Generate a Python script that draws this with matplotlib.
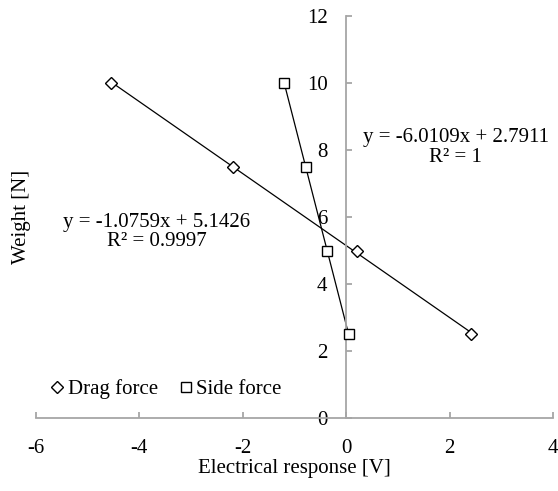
import numpy as np
import matplotlib
matplotlib.use("Agg")
import matplotlib.pyplot as plt
from matplotlib.lines import Line2D

# Data
weight = [10, 7.5, 5, 2.5]
drag_x = [-4.55, -2.18, 0.21, 2.41]
side_x = [-1.20, -0.785, -0.365, 0.045]
drag_eq = "y = -1.0759x + 5.1426\nR² = 0.9997"
side_eq = "y = -6.0109x + 2.7911\nR² = 1"
series_names = ["Drag force", "Side force"]
x_ticks = [-6, -4, -2, 0, 2, 4]
y_ticks = [0, 2, 4, 6, 8, 10, 12]

plt.rcParams['font.family'] = ['Liberation Serif', 'DejaVu Serif']
plt.rcParams['axes.unicode_minus'] = False
FS = 15
grey = '#A6A6A6'

fig = plt.figure(figsize=(5.58, 4.91), dpi=100)
ax = fig.add_axes([36/558, (491-418)/491, (553-36)/558, (418-16)/491])

for xs, mk, ms in [(drag_x, 'D', 6), (side_x, 's', 7.5)]:
    xs = np.array(xs)
    ys = np.array(weight)
    # trendline: y as linear function of x, drawn across the data range
    b = np.polyfit(xs, ys, 1)
    xl = np.array([xs.min(), xs.max()])
    ax.plot(xl, np.polyval(b, xl), color='black', lw=0.9, zorder=2)
    ax.plot(xs, ys, linestyle='none', marker=mk, markersize=ms,
            markerfacecolor='white', markeredgecolor='black',
            markeredgewidth=1.0, zorder=3)

ax.set_xlim(-6, 4)
ax.set_ylim(0, 12)
ax.set_xticks(x_ticks)
ax.set_yticks(y_ticks)
ax.spines['left'].set_position(('data', 0))
ax.spines['top'].set_visible(False)
ax.spines['right'].set_visible(False)
for s in ['left', 'bottom']:
    ax.spines[s].set_color(grey)
    ax.spines[s].set_linewidth(1.3)
ax.tick_params(axis='both', direction='in', color=grey, width=1.3,
               length=4, labelsize=FS, labelcolor='black')
ax.tick_params(axis='y', pad=13.5)
ax.tick_params(axis='x', pad=15)
ax.patch.set_alpha(0)

ax.text(-3.66, 5.55, drag_eq, ha='center', va='center', fontsize=FS,
        multialignment='center', linespacing=1.05)
ax.text(2.12, 8.07, side_eq, ha='center', va='center', fontsize=FS,
        multialignment='center', linespacing=1.05)

fig.text(22/558, 1 - 217/491, 'Weight [N]', rotation=90, ha='center',
         va='center', fontsize=FS)
fig.text(294/558, 1 - 468/491, 'Electrical response [V]', ha='center',
         va='center', fontsize=FS)

handles = [Line2D([], [], linestyle='none', marker='D', markersize=6,
                  markerfacecolor='white', markeredgecolor='black'),
           Line2D([], [], linestyle='none', marker='s', markersize=7.5,
                  markerfacecolor='white', markeredgecolor='black')]
fig.legend(handles, series_names, loc='center left',
           bbox_to_anchor=(50/558, 1 - 389/491), ncol=2, frameon=False,
           fontsize=FS, handlelength=0.7, handletextpad=0.15,
           columnspacing=1.0, borderpad=0, borderaxespad=0)

fig.savefig('out.png', dpi=100)
